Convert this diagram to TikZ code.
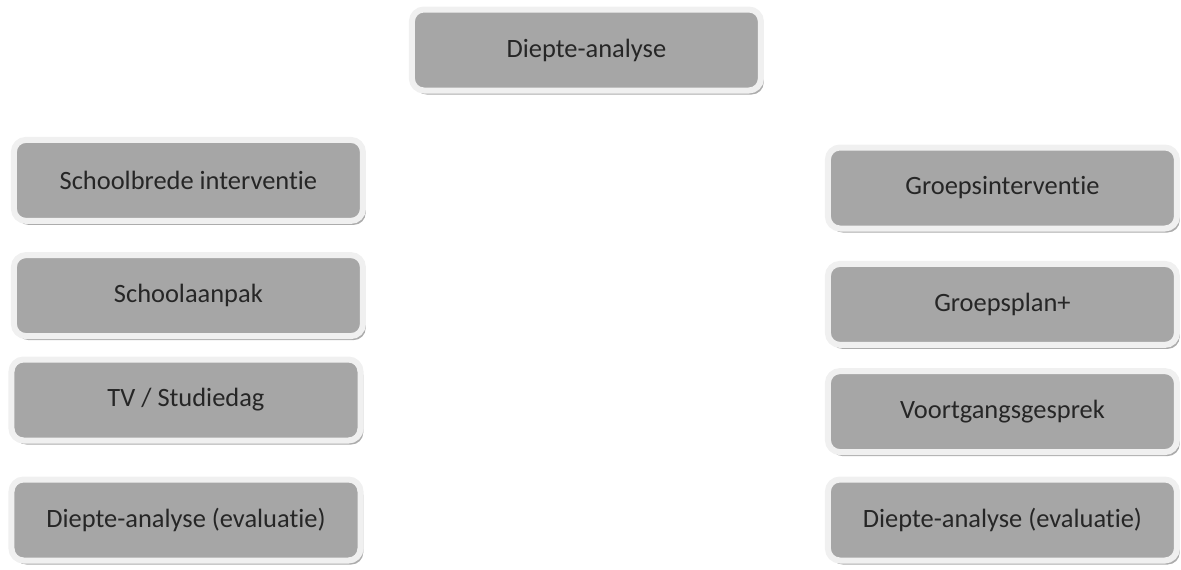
\documentclass[tikz,border=0pt]{standalone}
\usepackage{fontspec}
\setmainfont[Ligatures=NoCommon]{Carlito}
\usetikzlibrary{shadows}

\begin{document}
\begin{tikzpicture}[
		stapbox/.style={rectangle, rounded corners=0.3cm, fill=black!35, draw=black!6, line width=0.15cm,
			minimum width=8.725cm, minimum height=2.025cm, font=\fontsize{18.8}{22}\selectfont, text=black!85,
			drop shadow={shadow xshift=0.07cm, shadow yshift=-0.1cm, fill=black!50, opacity=0.65}}
	]
		%canvas
		\useasboundingbox (0,0) rectangle (29.525,-14.225);
		
		%top
		\node[stapbox] (diepte) at (14.66,-1.25) {Diepte-analyse};
		
		%school side
		\node[stapbox] (schoolbreed) at (4.71,-4.51) {Schoolbrede interventie};
		\node[stapbox] (schoolaanpak) at (4.71,-7.39) {Schoolaanpak};
		\node[stapbox] (studiedag) at (4.65,-10.0) {TV / Studiedag};
		\node[stapbox] (evalschool) at (4.65,-13.0) {Diepte-analyse (evaluatie)};
		
		%group side
		\node[stapbox] (groepsint) at (25.06,-4.7) {Groepsinterventie};
		\node[stapbox] (groepsplan) at (25.06,-7.61) {Groepsplan+};
		\node[stapbox] (voortgang) at (25.06,-10.29) {Voortgangsgesprek};
		\node[stapbox] (evalgroep) at (25.06,-13.0) {Diepte-analyse (evaluatie)};
		
\end{tikzpicture}
\end{document}
